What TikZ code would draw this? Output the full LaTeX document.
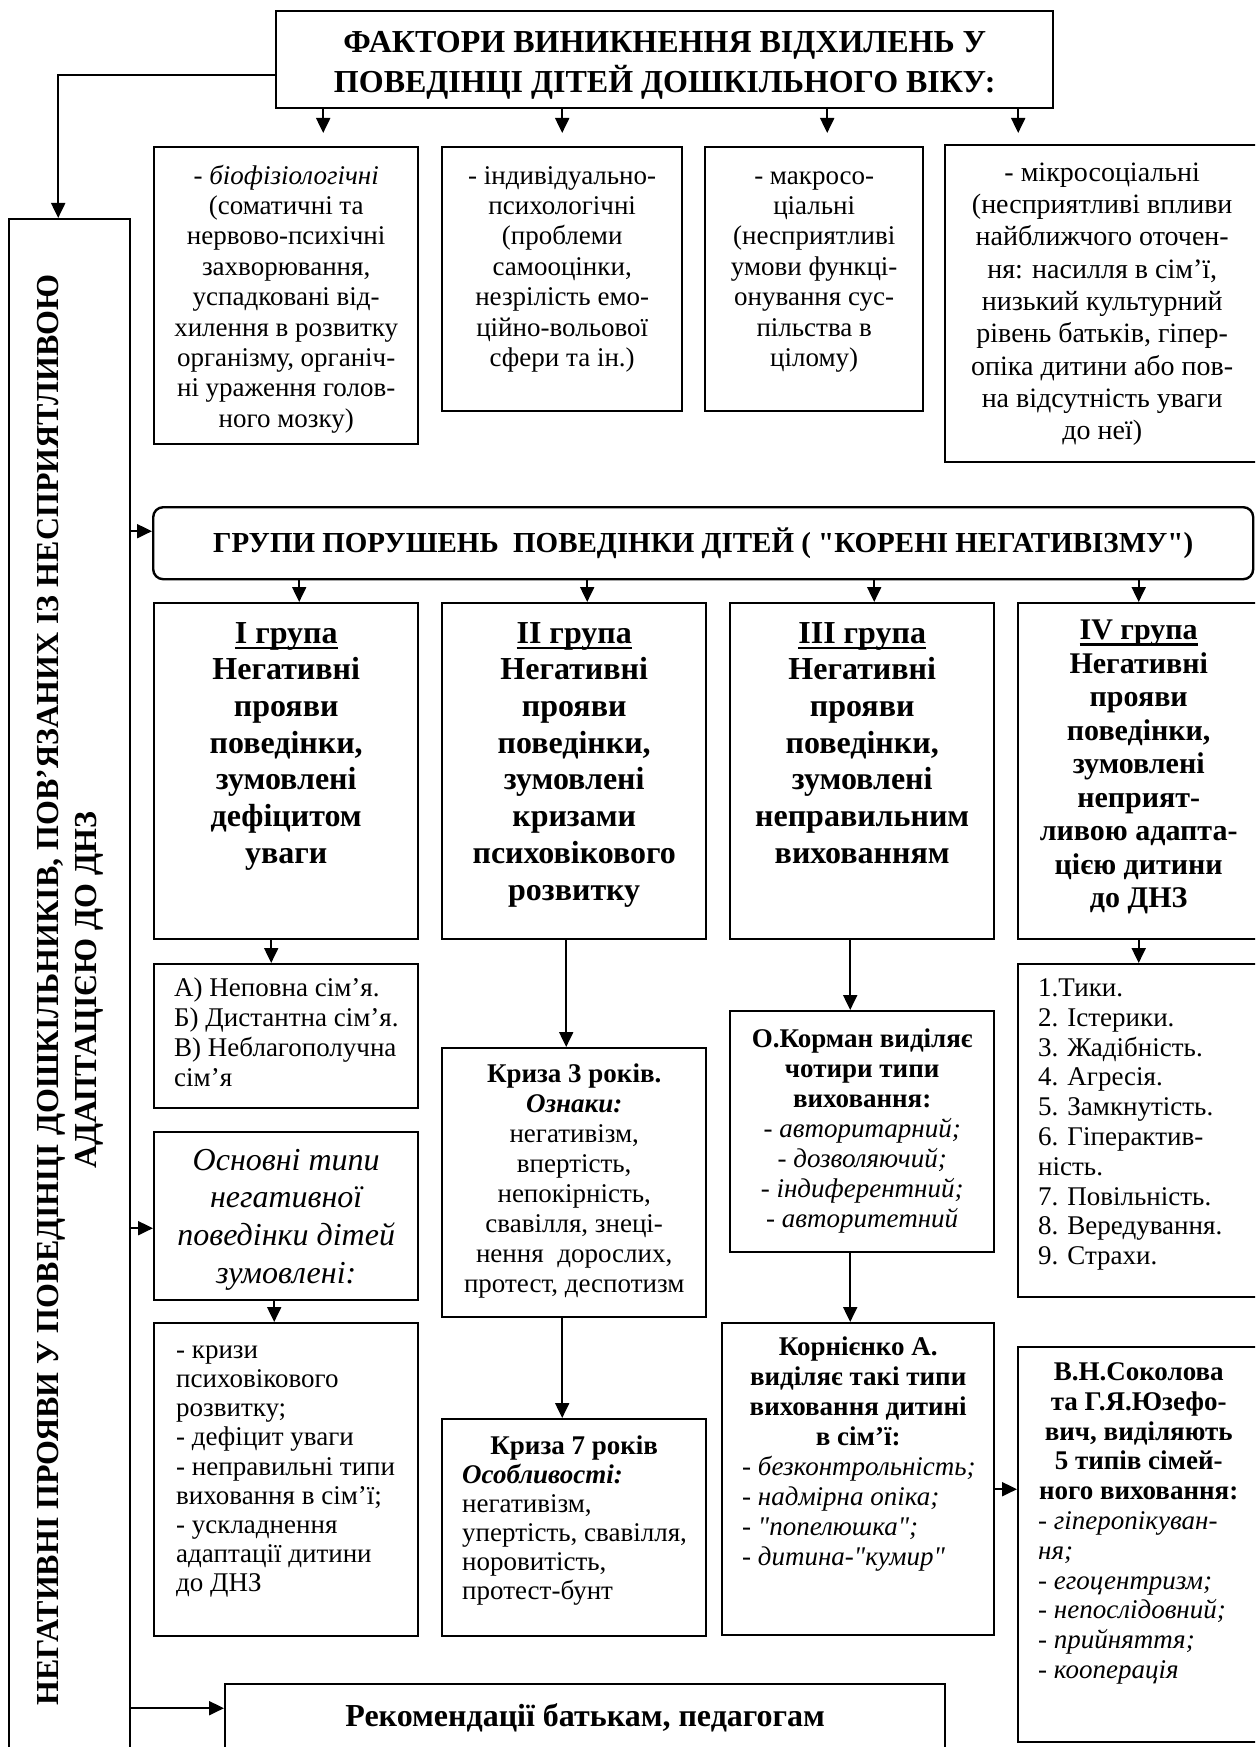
\documentclass[tikz,border=0pt]{standalone}
\usepackage{fontspec}
\setmainfont{Liberation Serif}[Ligatures=TeXOff]
\usepackage{graphicx}
\usetikzlibrary{arrows.meta, positioning}

% box body: width, height (pt), text from the top
\newcommand{\cellbody}[3]{\begin{minipage}[c][#2pt][t]{#1pt}#3\end{minipage}}
\newcommand{\padtop}[1]{\vspace*{#1pt}\leavevmode\strut}
\newcommand{\indentleft}[1]{\raggedright\leftskip=#1pt\relax}
\newcommand{\grplabel}[1]{\leavevmode\setbox0=\hbox{#1}\rlap{\rule[-6pt]{\wd0}{2.6pt}}\box0}

\begin{document}
\begin{tikzpicture}[x=1pt, y=-1pt,
    cell/.style={draw, line width=2.4pt, inner sep=0pt, anchor=north west},
    bodytext/.style={font=\fontsize{27}{30}\selectfont},
    grouptext/.style={font=\bfseries\fontsize{32}{36.7}\selectfont},
    arr/.style={-{Triangle[length=15pt, width=14pt]}, line width=2pt}
  ]
    \fill[white] (0,0) rectangle (1255,1747);
    \useasboundingbox (0,0) rectangle (1255,1747);
    \clip (0,0) rectangle (1255,1747);

    % Factors (top)
    \node[cell, font=\bfseries\fontsize{32}{40}\selectfont] (factors) at (275,10)
      {\cellbody{777}{97}{\centering\vspace*{20pt}ФАКТОРИ ВИНИКНЕННЯ ВІДХИЛЕНЬ У\\ПОВЕДІНЦІ ДІТЕЙ ДОШКІЛЬНОГО ВІКУ:}};

    \node[cell, font=\fontsize{27}{30.4}\selectfont] (f1) at (153,146)
      {\cellbody{264}{297}{\centering\padtop{15.7}- \textit{біофізіологічні}\\(соматичні та\\нервово-психічні\\захворювання,\\успадковані від-\\хилення в розвитку\\організму, органіч-\\ні ураження голов-\\ного мозку)}};
    \node[cell, font=\fontsize{27}{30.4}\selectfont] (f2) at (441,146)
      {\cellbody{240}{264}{\centering\padtop{15.7}- індивідуально-\\психологічні\\(проблеми\\самооцінки,\\незрілість емо-\\ційно-вольової\\сфери та ін.)}};
    \node[cell, font=\fontsize{27}{30.4}\selectfont] (f3) at (704,146)
      {\cellbody{218}{264}{\centering\padtop{15.7}- макросо-\\ціальні\\(несприятливі\\умови функці-\\онування сус-\\пільства в\\цілому)}};
    \node[cell, font=\fontsize{28}{32.3}\selectfont] (f4) at (944,144)
      {\cellbody{314}{317}{\centering\padtop{13.4}- мікросоціальні\\(несприятливі впливи\\найближчого оточен-\\ня: насилля в сім’ї,\\низький культурний\\рівень батьків, гіпер-\\опіка дитини або пов-\\на відсутність уваги\\до неї)}};

    % Left column
    \node[cell, minimum width=121pt, minimum height=1542pt, font=\bfseries\fontsize{32}{38}\selectfont] (vbox) at (8,218)
      {\rotatebox{90}{\begin{tabular}{@{}c@{}}НЕГАТИВНІ ПРОЯВИ У ПОВЕДІНЦІ ДОШКІЛЬНИКІВ, ПОВ’ЯЗАНИХ ІЗ НЕСПРИЯТЛИВОЮ\\АДАПТАЦІЄЮ ДО ДНЗ\end{tabular}}};

    % Groups header
    \node[cell, rounded corners=10pt, minimum width=1100pt, minimum height=72pt, font=\bfseries\fontsize{29}{33}\selectfont] (groups) at (152,506)
      {ГРУПИ ПОРУШЕНЬ\ \ ПОВЕДІНКИ ДІТЕЙ ( "КОРЕНІ НЕГАТИВІЗМУ")};

    \node[cell, grouptext] (g1) at (153,602)
      {\cellbody{264}{336}{\centering\padtop{14.3}\grplabel{I група}\\Негативні\\прояви\\поведінки,\\зумовлені\\дефіцитом\\уваги}};
    \node[cell, grouptext] (g2) at (441,602)
      {\cellbody{264}{336}{\centering\padtop{14.3}\grplabel{II група}\\Негативні\\прояви\\поведінки,\\зумовлені\\кризами\\психовікового\\розвитку}};
    \node[cell, grouptext] (g3) at (729,602)
      {\cellbody{264}{336}{\centering\padtop{14.3}\grplabel{III група}\\Негативні\\прояви\\поведінки,\\зумовлені\\неправильним\\вихованням}};
    \node[cell, font=\bfseries\fontsize{30}{33.5}\selectfont] (g4) at (1017,602)
      {\cellbody{241}{336}{\centering\padtop{13.3}\grplabel{IV група}\\Негативні\\прояви\\поведінки,\\зумовлені\\неприят-\\ливою адапта-\\цією дитини\\до ДНЗ}};

    % Under group I
    \node[cell, bodytext] (fams) at (153,963)
      {\cellbody{264}{144}{\indentleft{20}\padtop{11.4}А) Неповна сім’я.\\Б) Дистантна сім’я.\\В) Неблагополучна\\сім’я}};
    \node[cell, font=\itshape\fontsize{32}{37.8}\selectfont] (osn) at (153,1131)
      {\cellbody{264}{168}{\centering\padtop{11.5}Основні типи\\негативної\\поведінки дітей\\зумовлені:}};
    \node[cell, font=\fontsize{27}{29.2}\selectfont] (causes) at (153,1322)
      {\cellbody{264}{313}{\indentleft{22}\padtop{14.6}- кризи\\психовікового\\розвитку;\\- дефіцит уваги\\- неправильні типи\\виховання в сім’ї;\\- ускладнення\\адаптації дитини\\до ДНЗ}};

    % Under group II
    \node[cell, bodytext] (crisis3) at (441,1047)
      {\cellbody{264}{269}{\centering\padtop{13.4}\textbf{Криза 3 років.}\\\textbf{\textit{Ознаки:}}\\негативізм,\\впертість,\\непокірність,\\свавілля, знеці-\\нення\ \ дорослих,\\протест, деспотизм}};
    \node[cell, font=\fontsize{27}{29}\selectfont] (crisis7) at (441,1418)
      {\cellbody{264}{217}{{\centering\padtop{15.1}\textbf{Криза 7 років}\par}{\indentleft{20}\textbf{\textit{Особливості:}}\\негативізм,\\упертість, свавілля,\\норовитість,\\протест-бунт\par}}};

    % Under group III
    \node[cell, bodytext] (korman) at (729,1010)
      {\cellbody{264}{241}{\centering\padtop{15.4}\textbf{О.Корман виділяє}\\\textbf{чотири типи}\\\textbf{виховання:}\\\textit{- авторитарний;}\\\textit{- дозволяючий;}\\\textit{- індиферентний;}\\\textit{- авторитетний}}};
    \node[cell, bodytext] (korn) at (721,1322)
      {\cellbody{272}{312}{{\centering\padtop{11.4}\textbf{Корнієнко А.}\\\textbf{виділяє такі типи}\\\textbf{виховання дитині}\\\textbf{в сім’ї:}\par}{\indentleft{20}\itshape - безконтрольність;\\- надмірна опіка;\\- "попелюшка";\\- дитина-"кумир"\par}}};

    % Under group IV
    \node[cell, font=\fontsize{27}{29.8}\selectfont] (symptoms) at (1017,963)
      {\cellbody{241}{333}{\indentleft{20}\padtop{11.5}1.Тики.\\2. Істерики.\\3. Жадібність.\\4. Агресія.\\5. Замкнутість.\\6. Гіперактив-\\ність.\\7. Повільність.\\8. Вередування.\\9. Страхи.}};
    \node[cell, font=\fontsize{27}{29.8}\selectfont] (sokol) at (1017,1346)
      {\cellbody{241}{395}{{\centering\padtop{12.5}\textbf{В.Н.Соколова}\\\textbf{та Г.Я.Юзефо-}\\\textbf{вич, виділяють}\\\textbf{5 типів сімей-}\\\textbf{ного виховання:}\par}{\indentleft{20}\itshape - гіперопікуван-\\ня;\\- егоцентризм;\\- непослідовний;\\- прийняття;\\- кооперація\par}}};

    % Recommendations
    \node[cell, font=\bfseries\fontsize{32}{36}\selectfont] (rec) at (224,1683)
      {\cellbody{720}{82}{\centering\vspace*{19pt}Рекомендації батькам, педагогам}};

    % Arrows
    \draw[arr] ([yshift=-15.5pt]factors.west) -| ([xshift=-11.5pt]vbox.north);
    \draw[arr, shorten >=13pt] ([xshift=37pt]f1.north |- factors.south) -- ([xshift=37pt]f1.north);
    \draw[arr, shorten >=13pt] (f2.north |- factors.south) -- (f2.north);
    \draw[arr, shorten >=13pt] ([xshift=13pt]f3.north |- factors.south) -- ([xshift=13pt]f3.north);
    \draw[arr, shorten >=11pt] ([xshift=-84pt]f4.north |- factors.south) -- ([xshift=-84pt]f4.north);

    \draw[arr] ([yshift=12pt]groups.west -| vbox.east) -- ([yshift=12pt]groups.west);
    \draw[arr] ([xshift=13pt]g1.north |- groups.south) -- ([xshift=13pt]g1.north);
    \draw[arr] ([xshift=13pt]g2.north |- groups.south) -- ([xshift=13pt]g2.north);
    \draw[arr] ([xshift=12pt]g3.north |- groups.south) -- ([xshift=12pt]g3.north);
    \draw[arr] (g4.north |- groups.south) -- (g4.north);

    \draw[arr] ([xshift=-15pt]g1.south) -- ([xshift=-15pt]g1.south |- fams.north);
    \draw[arr] ([yshift=-12pt]osn.west -| vbox.east) -- ([yshift=-12pt]osn.west);
    \draw[arr] ([xshift=-12pt]osn.south) -- ([xshift=-12pt]osn.south |- causes.north);

    \draw[arr] ([xshift=-8pt]g2.south) -- ([xshift=-8pt]g2.south |- crisis3.north);
    \draw[arr] ([xshift=-12pt]crisis3.south) -- ([xshift=-12pt]crisis3.south |- crisis7.north);

    \draw[arr] ([xshift=-12pt]g3.south) -- ([xshift=-12pt]g3.south |- korman.north);
    \draw[arr] ([xshift=-12pt]korman.south) -- ([xshift=-12pt]korman.south |- korn.north);
    \draw[arr] ([yshift=-10pt]korn.east) -- ([yshift=-10pt]korn.east -| sokol.west);

    \draw[arr] (g4.south) -- (g4.south |- symptoms.north);
    \draw[arr] ([yshift=17pt]rec.west -| vbox.east) -- ([yshift=17pt]rec.west);
\end{tikzpicture}
\end{document}
